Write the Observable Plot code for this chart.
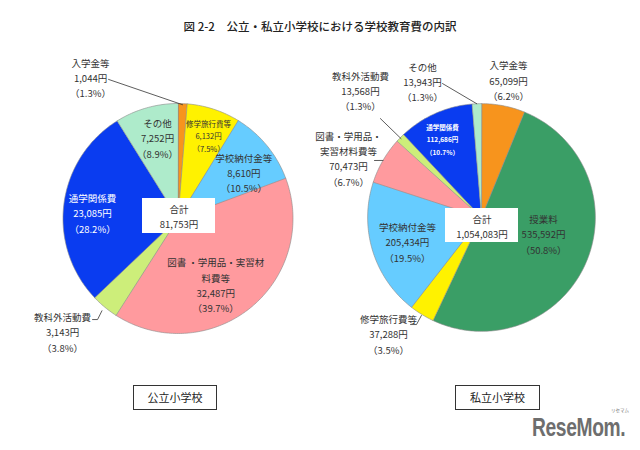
<!DOCTYPE html>
<html><head><meta charset="utf-8">
<script src="https://cdn.jsdelivr.net/npm/d3@7"></script>
<script src="https://cdn.jsdelivr.net/npm/@observablehq/plot@0.6"></script>
<style>
body{margin:0;background:#fff;font-family:"Noto Sans CJK JP","Noto Sans",sans-serif;}
#wrap{position:relative;width:640px;height:450px;overflow:hidden;background:#fff;}
#title{height:40px;box-sizing:border-box;padding-top:19px;text-align:center;font-size:11.5px;line-height:14px;color:#222;font-weight:500;}
#chart svg{display:block;}
.box{position:absolute;top:385px;height:25px;border:1px solid #333;box-sizing:border-box;font-size:11px;line-height:23px;text-align:center;color:#222;background:#fff;}
#logo{position:absolute;left:532px;top:418px;color:#6e6e6e;font-family:"Liberation Sans",Arial,sans-serif;font-weight:bold;font-size:25px;line-height:19px;letter-spacing:-0.5px;transform:scaleX(0.77);transform-origin:left top;white-space:nowrap;}
#logoKana{position:absolute;left:611px;top:408px;color:#777;font-size:4.5px;line-height:4.5px;white-space:nowrap;}
</style></head><body>
<div id="wrap">
<div id="title">図 2-2　公立・私立小学校における学校教育費の内訳</div>
<div id="chart"></div>
<div class="box" style="left:133px;width:84px">公立小学校</div>
<div class="box" style="left:455px;width:85px">私立小学校</div>
<div id="logoKana">リセマム</div>
<div id="logo">ReseMom.</div>
</div>
<script>
// ---- data ----
const categories = ["入学金等","授業料","修学旅行費等","学校納付金等","図書・学用品・実習材料費等","教科外活動費","通学関係費","その他"];
const colors = ["#f7941d","#3a9e66","#fff200","#66ccff","#ff9a9e","#cdee7a","#0a3cf0","#aeebcb"];
const schools = ["公立小学校","私立小学校"];
const publicValues = [1044, 0, 6132, 8610, 32487, 3143, 23085, 7252];
const privateValues = [65099, 535592, 37288, 205434, 70473, 13568, 112686, 13943];
const valuesBySchool = [publicValues, privateValues];

// ---- layout ----
const K = 115;            // px per unit (pie radius)
const W = 640, H = 330;
const CX0 = 177.5, CY0 = 178;
const pies = [{cx: 0, cy: 0, r: 1.0}, {cx: 303.5 / K, cy: 1 / K, r: 0.99}];
const styles = {
  n:  {fontSize: 9.5, lineHeight: 1.6, fill: "#333", fontWeight: "normal"},
  s:  {fontSize: 7.5, lineHeight: 1.65, fill: "#333", fontWeight: "normal"},
  w:  {fontSize: 9.5, lineHeight: 1.6, fill: "#fff", fontWeight: "normal"},
  ws: {fontSize: 6.5, lineHeight: 1.9, fill: "#fff", fontWeight: "bold"}
};
const labelLayout = [
  {
    "入学金等": {ang: 328.3, r: 1.447, st: "n"},
    "修学旅行費等": {ang: 20.2, r: 0.77, st: "s"},
    "学校納付金等": {ang: 54.9, r: 0.70, st: "n"},
    "図書・学用品・実習材料費等": {ang: 150.2, r: 0.66, st: "n", name: "図書 ・学用品・実習材\n料費等"},
    "教科外活動費": {ang: 225.6, r: 1.405, st: "n"},
    "通学関係費": {ang: 274.0, r: 0.745, st: "w"},
    "その他": {ang: 345.8, r: 0.726, st: "n"}
  },
  {
    "入学金等": {ang: 11.1, r: 1.22, st: "n"},
    "授業料": {ang: 104.5, r: 0.557, st: "n"},
    "修学旅行費等": {ang: 218.7, r: 1.293, st: "n"},
    "学校納付金等": {ang: 252, r: 0.677, st: "n"},
    "図書・学用品・実習材料費等": {ang: 294.1, r: 1.267, st: "n", name: "図書・学用品・\n実習材料費等"},
    "教科外活動費": {ang: 316.5, r: 1.53, st: "n"},
    "通学関係費": {ang: 333.7, r: 0.766, st: "ws"},
    "その他": {ang: 336.6, r: 1.291, st: "n"}
  }
];
const leaderLayout = [
  {"入学金等": {pts: [[18, 2.5]], endR: 0.99},
   "教科外活動費": {pts: [[30, -12], [35, -12]], endR: 1.04}},
  {"教科外活動費": {pts: [[20, 28.7]], endR: 0.98},
   "その他": {pts: [[20, 2.3]], endR: 0.99},
   "図書・学用品・実習材料費等": {pts: [[26, 2.5]], endR: 0.99},
   "修学旅行費等": {pts: [[22, -9], [28, -9]], endR: 1.0}}
];
const totalBoxes = [{dx: 1, dy: -2.5, w: 73, h: 35}, {dx: 0.5, dy: 8, w: 73, h: 34}];

// ---- build ----
function pt(pie, angDeg, r) {
  const a = angDeg * Math.PI / 180;
  return [pie.cx + r * Math.sin(a), pie.cy + r * Math.cos(a)];
}
const fmt = d3.format(",");
const slicePts = [], labels = [], leaders = [], boxes = [], totals = [];
schools.forEach((s, i) => {
  const pie = pies[i];
  const vals = valuesBySchool[i];
  const total = d3.sum(vals);
  const arcs = d3.pie().sort(null).value(d => d)(vals);
  arcs.forEach((a, j) => {
    if (!(a.value > 0)) return;
    const id = s + "-" + j, cat = categories[j];
    slicePts.push({id, cat, x: pie.cx, y: pie.cy});
    const n = Math.max(2, Math.ceil((a.endAngle - a.startAngle) / (Math.PI / 180)));
    for (let k = 0; k <= n; k++) {
      const t = a.startAngle + (a.endAngle - a.startAngle) * k / n;
      slicePts.push({id, cat, x: pie.cx + pie.r * Math.sin(t), y: pie.cy + pie.r * Math.cos(t)});
    }
    const L = labelLayout[i][cat];
    const [lx, ly] = pt(pie, L.ang, L.r);
    const text = `${L.name || cat}\n${fmt(vals[j])}円\n（${(vals[j] / total * 100).toFixed(1)}%）`;
    labels.push({x: lx, y: ly, text, st: L.st});
    const ld = leaderLayout[i][cat];
    if (ld) {
      ld.pts.forEach(([dx, dy]) => leaders.push({id, x: lx + dx / K, y: ly - dy / K}));
      const mid = (a.startAngle + a.endAngle) / 2 * 180 / Math.PI;
      const [ex, ey] = pt(pie, mid, ld.endR);
      leaders.push({id, x: ex, y: ey});
    }
  });
  const B = totalBoxes[i];
  const bx = pie.cx + B.dx / K, by = pie.cy - B.dy / K;
  boxes.push({x1: bx - B.w / 2 / K, x2: bx + B.w / 2 / K, y1: by - B.h / 2 / K, y2: by + B.h / 2 / K});
  totals.push({x: bx, y: by, text: `合計\n${fmt(total)}円`});
});

const textMarks = Object.entries(styles).map(([key, st]) =>
  Plot.text(labels.filter(d => d.st === key), {
    x: "x", y: "y", text: "text", fontSize: st.fontSize, lineHeight: st.lineHeight,
    fill: st.fill, fontWeight: st.fontWeight, fontFamily: "Noto Sans CJK JP"
  })
);

const chart = Plot.plot({
  width: W, height: H, margin: 0,
  x: {domain: [-CX0 / K, (W - CX0) / K], axis: null},
  y: {domain: [-(H - CY0) / K, CY0 / K], axis: null},
  color: {domain: categories, range: colors},
  style: {background: "#fff", fontFamily: "Noto Sans CJK JP"},
  marks: [
    Plot.line(slicePts, {x: "x", y: "y", z: "id", fill: "cat", stroke: "#8a8a8a", strokeWidth: 0.6, curve: "linear-closed"}),
    Plot.line(leaders, {x: "x", y: "y", z: "id", stroke: "#333", strokeWidth: 0.8}),
    Plot.rect(boxes, {x1: "x1", x2: "x2", y1: "y1", y2: "y2", fill: "#fff"}),
    Plot.text(totals, {x: "x", y: "y", text: "text", fontSize: 9.5, lineHeight: 1.6, fill: "#333", fontFamily: "Noto Sans CJK JP"}),
    ...textMarks
  ]
});
document.getElementById("chart").appendChild(chart);
</script>
</body></html>
